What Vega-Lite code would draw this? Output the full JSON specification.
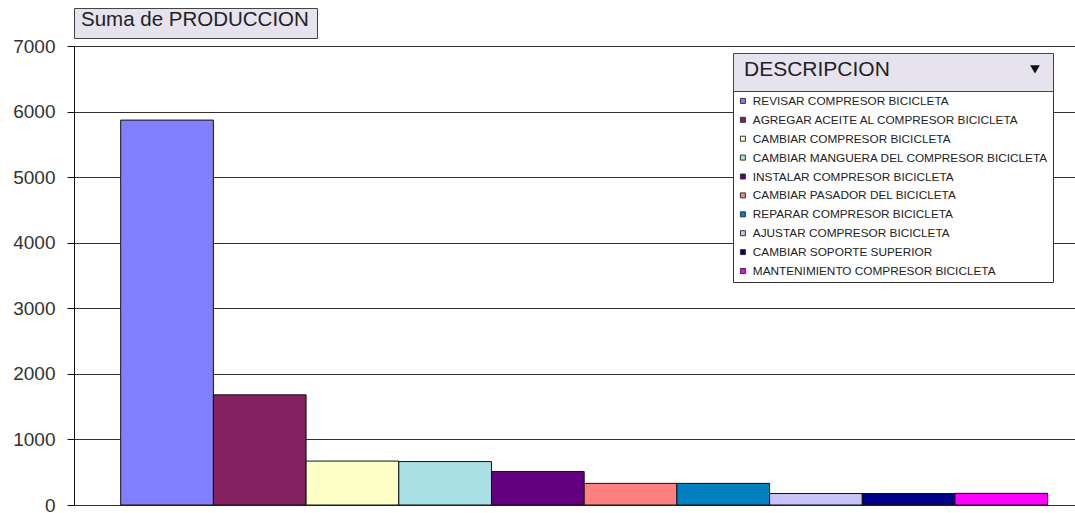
{
  "$schema": "https://vega.github.io/schema/vega-lite/v6.json",
  "width": 1001,
  "height": 459,
  "autosize": {"type": "none"},
  "padding": {"left": 74, "top": 46, "right": 0, "bottom": 8},
  "background": "white",
  "data": {
    "values": [
      {"DESCRIPCION": "REVISAR COMPRESOR BICICLETA", "PRODUCCION": 5870},
      {"DESCRIPCION": "AGREGAR ACEITE AL COMPRESOR BICICLETA", "PRODUCCION": 1680},
      {"DESCRIPCION": "CAMBIAR COMPRESOR BICICLETA", "PRODUCCION": 670},
      {"DESCRIPCION": "CAMBIAR MANGUERA DEL COMPRESOR BICICLETA", "PRODUCCION": 662},
      {"DESCRIPCION": "INSTALAR COMPRESOR BICICLETA", "PRODUCCION": 510},
      {"DESCRIPCION": "CAMBIAR PASADOR DEL BICICLETA", "PRODUCCION": 330},
      {"DESCRIPCION": "REPARAR COMPRESOR BICICLETA", "PRODUCCION": 330},
      {"DESCRIPCION": "AJUSTAR COMPRESOR BICICLETA", "PRODUCCION": 175},
      {"DESCRIPCION": "CAMBIAR SOPORTE SUPERIOR", "PRODUCCION": 175},
      {"DESCRIPCION": "MANTENIMIENTO COMPRESOR BICICLETA", "PRODUCCION": 178}
    ]
  },
  "mark": {"type": "bar", "stroke": "#111"},
  "encoding": {
    "x": {
      "field": "DESCRIPCION",
      "type": "nominal",
      "sort": null,
      "axis": null,
      "scale": {"paddingInner": 0, "paddingOuter": 0.399, "align": 0.631}
    },
    "y": {
      "field": "PRODUCCION",
      "type": "quantitative",
      "scale": {"domain": [0, 7000], "nice": false},
      "axis": {
        "title": null,
        "format": "d",
        "values": [0, 1000, 2000, 3000, 4000, 5000, 6000, 7000],
        "domainColor": "#111",
        "tickColor": "#111",
        "tickSize": 7,
        "labelFont": "Liberation Sans",
        "labelFontSize": 19,
        "labelColor": "#333",
        "labelPadding": 12,
        "gridColor": "#333",
        "gridWidth": 1,
        "gridOpacity": 1
      }
    },
    "color": {
      "field": "DESCRIPCION",
      "type": "nominal",
      "sort": null,
      "scale": {
        "domain": ["REVISAR COMPRESOR BICICLETA", "AGREGAR ACEITE AL COMPRESOR BICICLETA", "CAMBIAR COMPRESOR BICICLETA", "CAMBIAR MANGUERA DEL COMPRESOR BICICLETA", "INSTALAR COMPRESOR BICICLETA", "CAMBIAR PASADOR DEL BICICLETA", "REPARAR COMPRESOR BICICLETA", "AJUSTAR COMPRESOR BICICLETA", "CAMBIAR SOPORTE SUPERIOR", "MANTENIMIENTO COMPRESOR BICICLETA"],
        "range": ["#8080FF", "#822060", "#FFFFC8", "#A8E0E4", "#620080", "#FF8080", "#0080C0", "#C8C4F8", "#000088", "#FF00FF"]
      },
      "legend": {
        "title": null,
        "orient": "none",
        "legendX": 659,
        "legendY": 45,
        "symbolType": "square",
        "symbolSize": 25,
        "symbolStrokeColor": "#333",
        "symbolStrokeWidth": 1,
        "labelFont": "Liberation Sans",
        "labelFontSize": 11.8,
        "labelColor": "#222",
        "labelLimit": 400,
        "labelOffset": 4,
        "rowPadding": 5.9,
        "padding": 4,
        "fillColor": "white",
        "strokeColor": "#333"
      }
    },
    "opacity": {
      "datum": "DESCRIPCION",
      "type": "ordinal",
      "scale": {"type": "point", "range": [1, 1]},
      "legend": {
        "title": "DESCRIPCION",
        "titleOrient": "left",
        "titleFont": "Liberation Sans",
        "titleFontSize": 21,
        "titleFontWeight": "normal",
        "titleColor": "#222",
        "titleLimit": 400,
        "titlePadding": 140,
        "orient": "none",
        "legendX": 659,
        "legendY": 7,
        "symbolType": "triangle-down",
        "symbolSize": 50,
        "symbolFillColor": "#111",
        "symbolStrokeColor": "#111",
        "symbolOpacity": 1,
        "labelExpr": "''",
        "labelOffset": 0,
        "padding": 11,
        "fillColor": "#E6E2EE",
        "strokeColor": "#444"
      }
    },
    "strokeWidth": {
      "datum": "Suma de PRODUCCION",
      "type": "ordinal",
      "scale": {"type": "point", "range": [1, 1]},
      "legend": {
        "title": "Suma de PRODUCCION",
        "titleOrient": "left",
        "titleFont": "Liberation Sans",
        "titleFontSize": 20.5,
        "titleFontWeight": "normal",
        "titleColor": "#222",
        "titleLimit": 400,
        "titlePadding": -9,
        "orient": "none",
        "legendX": 0,
        "legendY": -38,
        "symbolSize": 0,
        "symbolOpacity": 0,
        "labelExpr": "''",
        "labelOffset": 0,
        "padding": 7,
        "fillColor": "#E6E2EE",
        "strokeColor": "#444"
      }
    }
  },
  "config": {
    "view": {"stroke": null},
    "axis": {"domainWidth": 1, "tickWidth": 1}
  }
}
